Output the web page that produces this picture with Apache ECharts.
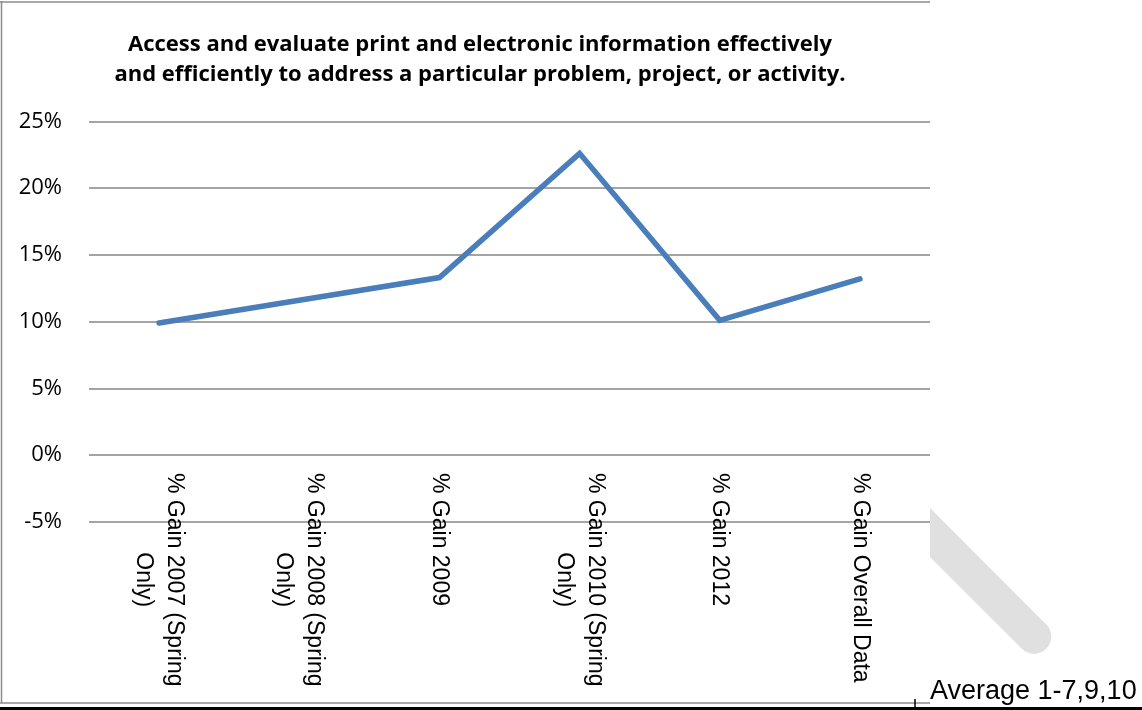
<!DOCTYPE html>
<html>
<head>
<meta charset="utf-8">
<script src="https://cdn.jsdelivr.net/npm/echarts@6/dist/echarts.min.js"></script>
<style>html,body{margin:0;padding:0;background:#fff;}#c{width:1142px;height:710px;}</style>
</head>
<body>
<div id="c"></div>
<script>
const titleLines = [
  'Access and evaluate print and electronic information effectively',
  'and efficiently to address a particular problem, project, or activity.'
];
const categories = [
  '% Gain 2007 (Spring\nOnly)',
  '% Gain 2008 (Spring\nOnly)',
  '% Gain 2009',
  '% Gain 2010 (Spring\nOnly)',
  '% Gain 2012',
  '% Gain Overall Data'
];
const gainValues = [9.9, 11.6, 13.3, 22.6, 10.1, 13.2];
const yMin = -5, yMax = 25, yStep = 5;
const footnote = 'Average 1-7,9,10';

const chart = echarts.init(document.getElementById('c'), null, {renderer: 'canvas'});
const gridColor = '#868686';
chart.setOption({
  animation: false,
  backgroundColor: '#fff',
  grid: {left: 89, right: 212, top: 121.3, bottom: 188, containLabel: false, outerBoundsMode: 'none'},
  xAxis: {
    type: 'category',
    data: categories,
    boundaryGap: true,
    axisLine: {show: false},
    axisTick: {show: false},
    splitLine: {show: false},
    axisLabel: {
      interval: 0,
      rotate: -90,
      margin: -49,
      color: '#000',
      fontFamily: 'Liberation Sans',
      fontSize: 23,
      formatter: function (v) { return v.split('\n').map(s => '{c|' + s + '}').join('\n'); },
      rich: {c: {align: 'center', fontFamily: 'Liberation Sans', fontSize: 23, lineHeight: 31, color: '#000'}}
    }
  },
  yAxis: {
    type: 'value',
    min: yMin, max: yMax, interval: yStep,
    axisLine: {show: false},
    axisTick: {show: false},
    splitLine: {show: true, lineStyle: {color: gridColor, width: 1.6}},
    axisLabel: {
      margin: 27,
      color: '#000',
      fontFamily: 'Open Sans',
      fontSize: 22,
      formatter: '{value}%'
    }
  },
  series: [{
    type: 'line',
    data: gainValues,
    symbol: 'none',
    smooth: false,
    lineStyle: {color: '#4A7EBB', width: 5.5, cap: 'round', join: 'miter'},
    z: 5
  }],
  graphic: [
    {type: 'text', x: 480, y: 45, style: {text: titleLines[0], font: 'bold 22px "Open Sans"', fill: '#000', textAlign: 'center', textVerticalAlign: 'middle'}},
    {type: 'text', x: 480, y: 74.5, style: {text: titleLines[1], font: 'bold 22px "Open Sans"', fill: '#000', textAlign: 'center', textVerticalAlign: 'middle'}},
    {type: 'line', shape: {x1: 0, y1: 2, x2: 930, y2: 2}, style: {stroke: '#8c8c8c', lineWidth: 1.5}},
    {type: 'line', shape: {x1: 1.5, y1: 1, x2: 1.5, y2: 703}, style: {stroke: '#8c8c8c', lineWidth: 1.5}},
    {type: 'line', shape: {x1: 0, y1: 703, x2: 930, y2: 703}, style: {stroke: '#8c8c8c', lineWidth: 1.5}},
    {type: 'polygon', shape: {points: [[930, 508], [1046.2, 624.4], [1021.8, 648.8], [930, 557]]}, style: {fill: '#e0e0e0'}, z: -1},
    {type: 'circle', shape: {cx: 1034, cy: 636.6, r: 17.3}, style: {fill: '#e0e0e0'}, z: -1},
    {type: 'line', shape: {x1: 0, y1: 708.5, x2: 1142, y2: 708.5}, style: {stroke: '#000', lineWidth: 3}},
    {type: 'line', shape: {x1: 915, y1: 699, x2: 915, y2: 707}, style: {stroke: '#000', lineWidth: 1.5}},
    {type: 'text', x: 930, y: 691.5, style: {text: footnote, font: '27px "Liberation Sans"', fill: '#000', textAlign: 'left', textVerticalAlign: 'middle'}}
  ]
});
</script>
</body>
</html>
